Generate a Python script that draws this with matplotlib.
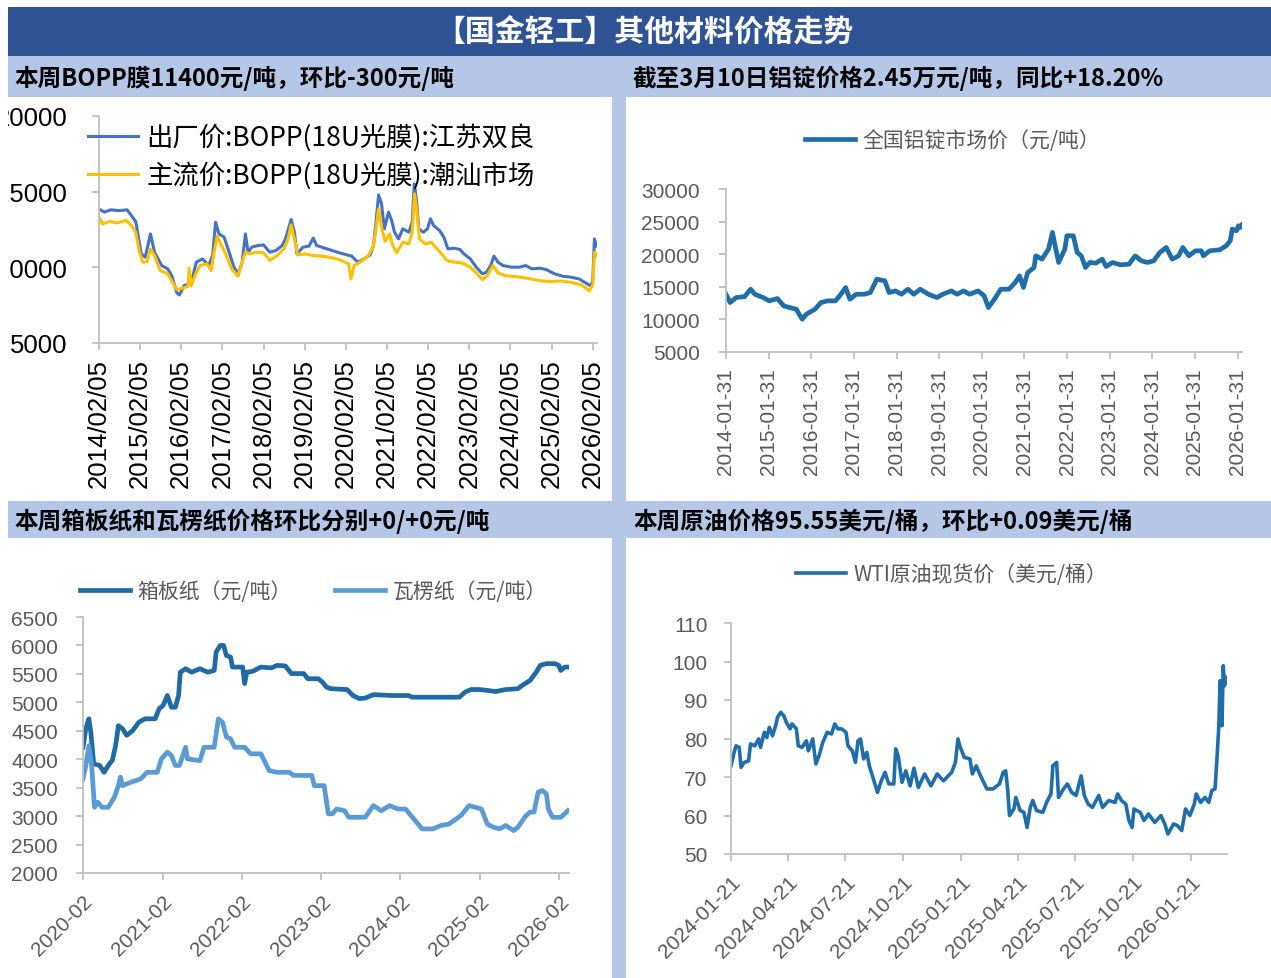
import matplotlib
matplotlib.use('Agg')
import matplotlib.pyplot as plt
from matplotlib.patches import Rectangle
import pandas as pd

# ---- BOPP film (元/吨) ----
bopp_js_dates = ['2014-02-05', '2014-03-25', '2014-05-20', '2014-08-01', '2014-10-12', '2014-11-20', '2014-12-28',
                 '2015-02-15', '2015-03-22', '2015-05-08', '2015-06-13', '2015-08-15', '2015-10-08', '2015-11-13',
                 '2015-12-28', '2016-01-20', '2016-03-03', '2016-04-16', '2016-05-12', '2016-06-18', '2016-08-12',
                 '2016-10-05', '2016-11-10', '2016-12-06', '2017-01-05', '2017-02-20', '2017-04-05', '2017-05-18',
                 '2017-06-25', '2017-07-30', '2017-08-28', '2017-09-20', '2017-10-22', '2017-12-15', '2018-02-05',
                 '2018-04-01', '2018-05-26', '2018-07-20', '2018-08-18', '2018-10-08', '2018-11-06', '2018-11-28',
                 '2019-01-20', '2019-03-15', '2019-04-22', '2019-05-22', '2019-08-22', '2019-12-10', '2020-03-28',
                 '2020-05-22', '2020-07-16', '2020-09-08', '2020-10-08', '2020-10-30', '2020-11-22', '2020-12-18',
                 '2021-01-12', '2021-02-18', '2021-03-18', '2021-04-12', '2021-05-18', '2021-06-25', '2021-08-18',
                 '2021-09-16', '2021-10-05', '2021-10-23', '2021-11-14', '2021-12-24', '2022-01-30', '2022-02-25',
                 '2022-03-25', '2022-05-18', '2022-06-25', '2022-07-30', '2022-09-24', '2022-11-14', '2022-12-20',
                 '2023-02-14', '2023-04-08', '2023-06-02', '2023-07-08', '2023-08-14', '2023-09-12', '2023-10-18',
                 '2023-12-01', '2024-02-14', '2024-04-26', '2024-06-20', '2024-08-14', '2024-10-26', '2024-12-20',
                 '2025-03-03', '2025-05-15', '2025-07-26', '2025-10-08', '2025-12-20', '2026-01-15', '2026-02-05',
                 '2026-02-20', '2026-02-27', '2026-03-06']
bopp_js_vals = [13850, 13650, 13800, 13750, 13800, 13420, 13030,
                10890, 10670, 12210, 11000, 10120, 9900, 9450,
                8310, 8180, 8800, 8900, 9230, 10340, 10560,
                10120, 10780, 12980, 12210, 11990, 11000, 10010,
                9570, 10340, 12210, 11000, 11330, 11440, 11480,
                11000, 11110, 11440, 11880, 13160, 12320, 10890,
                11330, 11400, 11930, 11440, 11220, 10960, 10740,
                10340, 10560, 10820, 11440, 12980, 14790, 14200,
                12540, 13650, 13100, 12320, 11880, 12540, 12320,
                12980, 15520, 14530, 12540, 12320, 12540, 13210,
                12760, 12430, 11990, 11220, 11260, 11180, 10890,
                10560, 10010, 9570, 9680, 10120, 10740, 10340,
                10120, 10010, 10010, 10120, 9900, 9940, 9850,
                9570, 9410, 9350, 9230, 8900, 8790, 9060,
                11880, 11700, 11400]

bopp_cs_dates = ['2014-02-05', '2014-03-08', '2014-05-05', '2014-07-20', '2014-10-01', '2014-11-20', '2014-12-28',
                 '2015-01-30', '2015-03-01', '2015-04-08', '2015-05-08', '2015-06-13', '2015-08-01', '2015-10-08',
                 '2015-11-20', '2015-12-28', '2016-02-20', '2016-04-05', '2016-04-16', '2016-05-05', '2016-06-12',
                 '2016-07-20', '2016-09-20', '2016-10-28', '2016-11-22', '2016-12-20', '2017-01-28', '2017-03-05',
                 '2017-04-28', '2017-06-22', '2017-07-30', '2017-08-28', '2017-10-05', '2017-11-28', '2018-02-05',
                 '2018-04-01', '2018-06-05', '2018-08-05', '2018-09-10', '2018-10-08', '2018-11-06', '2018-12-05',
                 '2019-02-05', '2019-04-20', '2019-07-01', '2019-09-12', '2019-12-10', '2020-03-01', '2020-03-22',
                 '2020-04-18', '2020-06-10', '2020-08-20', '2020-10-05', '2020-10-30', '2020-11-22', '2020-12-18',
                 '2021-01-20', '2021-02-28', '2021-03-28', '2021-05-01', '2021-06-25', '2021-08-18', '2021-09-16',
                 '2021-10-08', '2021-10-28', '2021-11-20', '2022-01-10', '2022-03-05', '2022-04-12', '2022-06-05',
                 '2022-07-20', '2022-09-24', '2022-12-05', '2023-02-14', '2023-04-08', '2023-06-02', '2023-07-15',
                 '2023-09-02', '2023-10-18', '2023-12-20', '2024-03-20', '2024-07-05', '2024-10-26', '2025-01-26',
                 '2025-04-28', '2025-07-26', '2025-10-28', '2026-01-05', '2026-02-05', '2026-02-20', '2026-02-27',
                 '2026-03-06']
bopp_cs_vals = [13320, 12870, 13030, 12940, 13100, 12760, 12320,
                11000, 10340, 10380, 11220, 10780, 9790, 9570,
                9010, 8530, 8620, 8750, 9940, 8800, 9570,
                10120, 10230, 9790, 11000, 12060, 11440, 10890,
                9900, 9410, 10340, 11000, 10890, 11000, 10960,
                10450, 10780, 11220, 11880, 12810, 11880, 10820,
                10890, 10780, 10740, 10670, 10510, 10230, 9230,
                10120, 10340, 10740, 11330, 12540, 13870, 12650,
                11710, 12210, 11440, 10960, 11660, 11550, 12320,
                14860, 13650, 11880, 11550, 11660, 11330, 10890,
                10450, 10340, 10290, 10010, 9630, 9190, 9450,
                10120, 9630, 9450, 9390, 9280, 9120, 9060,
                9100, 9010, 8840, 8460, 8800, 11000, 10700,
                10900]
bopp_ticks = ['2014-02-05', '2015-02-05', '2016-02-05', '2017-02-05', '2018-02-05', '2019-02-05', '2020-02-05',
              '2021-02-05', '2022-02-05', '2023-02-05', '2024-02-05', '2025-02-05', '2026-02-05']

# ---- aluminium ingot (元/吨) ----
alu_dates = ['2014-01-31', '2014-03-07', '2014-04-28', '2014-07-10', '2014-08-30', '2014-10-05', '2014-12-15',
             '2015-02-06', '2015-04-16', '2015-06-10', '2015-08-01', '2015-09-25', '2015-11-15', '2015-12-20',
             '2016-03-03', '2016-04-23', '2016-06-17', '2016-08-25', '2016-10-01', '2016-11-21', '2016-12-27',
             '2017-02-20', '2017-05-01', '2017-06-21', '2017-08-15', '2017-10-23', '2017-11-28', '2018-01-22',
             '2018-03-14', '2018-05-08', '2018-06-28', '2018-08-22', '2018-10-31', '2019-01-12', '2019-03-03',
             '2019-05-15', '2019-07-05', '2019-08-29', '2019-10-19', '2020-01-01', '2020-02-21', '2020-03-28',
             '2020-05-19', '2020-07-12', '2020-09-20', '2020-11-13', '2020-12-20', '2021-01-22', '2021-02-28',
             '2021-04-23', '2021-05-08', '2021-07-01', '2021-08-25', '2021-09-28', '2021-10-15', '2021-11-20',
             '2022-01-12', '2022-01-30', '2022-03-25', '2022-04-28', '2022-06-02', '2022-07-08', '2022-08-14',
             '2022-10-05', '2022-11-28', '2023-01-01', '2023-02-24', '2023-05-05', '2023-07-16', '2023-09-06',
             '2023-10-30', '2023-12-20', '2024-02-13', '2024-04-05', '2024-05-30', '2024-07-20', '2024-09-13',
             '2024-10-19', '2024-12-10', '2025-02-03', '2025-03-26', '2025-04-13', '2025-06-06', '2025-09-02',
             '2025-10-26', '2025-11-29', '2025-12-17', '2026-01-22', '2026-02-08', '2026-02-26', '2026-03-10']
alu_vals = [13860, 12580, 13350, 13500, 14630, 13860, 13350,
            12840, 13200, 12070, 11810, 11560, 10020, 10790,
            11560, 12580, 12840, 12840, 13610, 14890, 13100,
            13860, 13860, 14120, 16170, 15910, 14120, 14370,
            13860, 14630, 13860, 14630, 13860, 13350, 13860,
            14370, 13860, 14370, 13860, 14370, 13610, 11810,
            13100, 14630, 14630, 15650, 16670, 14890, 17190,
            17960, 19750, 19240, 20780, 23340, 21800, 18730,
            20780, 22830, 22830, 20270, 19750, 17960, 18730,
            18630, 19240, 18110, 18730, 18370, 18470, 19750,
            18990, 18730, 18990, 20270, 21030, 19240, 19750,
            21030, 19750, 20520, 20520, 19750, 20520, 20680,
            21290, 22060, 23850, 23600, 24370, 24110, 24500]
alu_ticks = ['2014-01-31', '2015-01-31', '2016-01-31', '2017-01-31', '2018-01-31', '2019-01-31', '2020-01-31',
             '2021-01-31', '2022-01-31', '2023-01-31', '2024-01-31', '2025-01-31', '2026-01-31']

# ---- containerboard / corrugated paper (元/吨) ----
box_dates = ['2020-02-01', '2020-02-14', '2020-02-28', '2020-03-08', '2020-03-21', '2020-04-18', '2020-05-08',
             '2020-05-27', '2020-06-15', '2020-06-30', '2020-07-13', '2020-08-01', '2020-08-20', '2020-09-17',
             '2020-10-15', '2020-11-12', '2020-12-29', '2021-01-17', '2021-02-04', '2021-02-23', '2021-03-14',
             '2021-04-01', '2021-04-16', '2021-04-24', '2021-05-18', '2021-06-15', '2021-07-23', '2021-08-29',
             '2021-09-27', '2021-10-06', '2021-10-25', '2021-11-09', '2021-11-22', '2021-12-11', '2021-12-20',
             '2022-02-05', '2022-02-14', '2022-02-24', '2022-03-23', '2022-04-30', '2022-06-16', '2022-07-14',
             '2022-08-20', '2022-09-17', '2022-11-13', '2022-12-02', '2023-01-19', '2023-02-07', '2023-02-25',
             '2023-03-16', '2023-05-31', '2023-06-28', '2023-07-26', '2023-08-23', '2023-09-30', '2023-12-24',
             '2024-03-08', '2024-03-27', '2024-06-29', '2024-10-29', '2024-11-25', '2024-12-22', '2025-01-29',
             '2025-03-07', '2025-04-14', '2025-05-31', '2025-07-26', '2025-08-14', '2025-09-20', '2025-10-18',
             '2025-11-06', '2025-12-04', '2026-01-11', '2026-01-30', '2026-02-08', '2026-02-27', '2026-03-13']
box_vals = [4210, 4535, 4710, 4476, 3920, 3890, 3770,
            3890, 3980, 4240, 4590, 4535, 4420, 4505,
            4650, 4710, 4710, 4890, 4945, 5120, 4915,
            4915, 5120, 5530, 5590, 5530, 5590, 5530,
            5560, 5885, 6000, 6000, 5825, 5795, 5620,
            5620, 5330, 5530, 5545, 5620, 5605, 5650,
            5640, 5505, 5505, 5415, 5415, 5355, 5270,
            5240, 5225, 5120, 5065, 5075, 5135, 5120,
            5120, 5090, 5090, 5090, 5180, 5225, 5225,
            5210, 5190, 5225, 5240, 5295, 5385, 5530,
            5650, 5680, 5680, 5650, 5560, 5620, 5620]

flute_dates = ['2020-02-01', '2020-02-14', '2020-02-28', '2020-03-12', '2020-03-25', '2020-04-09', '2020-04-28',
               '2020-05-27', '2020-06-24', '2020-07-13', '2020-07-22', '2020-08-01', '2020-09-08', '2020-10-24',
               '2020-11-22', '2021-01-08', '2021-01-27', '2021-02-23', '2021-03-14', '2021-04-01', '2021-04-20',
               '2021-05-18', '2021-05-27', '2021-07-23', '2021-08-11', '2021-09-27', '2021-10-16', '2021-11-04',
               '2021-11-22', '2021-12-11', '2021-12-30', '2022-02-14', '2022-03-14', '2022-04-30', '2022-06-07',
               '2022-07-14', '2022-09-08', '2022-09-27', '2022-12-20', '2023-01-01', '2023-02-15', '2023-03-06',
               '2023-03-25', '2023-04-13', '2023-05-20', '2023-06-08', '2023-08-23', '2023-09-30', '2023-11-04',
               '2023-12-13', '2024-01-19', '2024-02-25', '2024-03-27', '2024-05-11', '2024-06-29', '2024-08-05',
               '2024-09-11', '2024-11-06', '2024-12-13', '2025-02-08', '2025-03-07', '2025-04-04', '2025-05-02',
               '2025-05-31', '2025-07-06', '2025-07-26', '2025-09-01', '2025-09-20', '2025-10-08', '2025-10-27',
               '2025-11-15', '2025-12-04', '2025-12-13', '2026-01-01', '2026-02-08', '2026-03-07', '2026-03-13']
flute_vals = [3655, 3890, 4240, 3890, 3155, 3245, 3155,
              3155, 3330, 3535, 3685, 3535, 3595, 3655,
              3770, 3770, 4005, 4125, 4065, 3890, 3890,
              4210, 4005, 3975, 4210, 4210, 4710, 4650,
              4390, 4360, 4210, 4210, 4095, 4095, 3800,
              3770, 3770, 3715, 3715, 3535, 3535, 3040,
              3040, 3125, 3095, 2980, 2980, 3185, 3095,
              3185, 3125, 3125, 2980, 2775, 2775, 2835,
              2860, 3010, 3185, 3125, 2860, 2805, 2775,
              2835, 2745, 2805, 3010, 3070, 3070, 3420,
              3450, 3390, 3125, 2980, 2980, 3070, 3095]
paper_ticks = ['2020-02-01', '2021-02-01', '2022-02-01', '2023-02-01', '2024-02-01', '2025-02-01', '2026-02-01']
paper_labels = ['2020-02', '2021-02', '2022-02', '2023-02', '2024-02', '2025-02', '2026-02']

# ---- WTI crude spot (美元/桶) ----
wti_dates = ['2024-01-21', '2024-01-26', '2024-01-29', '2024-02-03', '2024-02-06', '2024-02-11', '2024-02-18',
             '2024-02-21', '2024-02-28', '2024-03-05', '2024-03-08', '2024-03-14', '2024-03-18', '2024-03-22',
             '2024-03-27', '2024-04-01', '2024-04-04', '2024-04-09', '2024-04-14', '2024-04-18', '2024-04-24',
             '2024-04-27', '2024-05-04', '2024-05-07', '2024-05-13', '2024-05-20', '2024-05-23', '2024-05-30',
             '2024-06-04', '2024-06-09', '2024-06-15', '2024-06-22', '2024-06-29', '2024-07-04', '2024-07-09',
             '2024-07-15', '2024-07-22', '2024-07-25', '2024-08-01', '2024-08-06', '2024-08-10', '2024-08-14',
             '2024-08-19', '2024-08-24', '2024-08-28', '2024-09-02', '2024-09-10', '2024-09-16', '2024-09-22',
             '2024-09-28', '2024-10-06', '2024-10-09', '2024-10-13', '2024-10-19', '2024-10-25', '2024-11-01',
             '2024-11-07', '2024-11-14', '2024-11-24', '2024-12-04', '2024-12-14', '2024-12-24', '2025-01-06',
             '2025-01-12', '2025-01-16', '2025-01-19', '2025-01-26', '2025-02-04', '2025-02-08', '2025-02-14',
             '2025-02-21', '2025-03-03', '2025-03-13', '2025-03-23', '2025-03-29', '2025-04-02', '2025-04-05',
             '2025-04-08', '2025-04-15', '2025-04-18', '2025-04-25', '2025-05-01', '2025-05-06', '2025-05-11',
             '2025-05-15', '2025-05-21', '2025-05-31', '2025-06-06', '2025-06-13', '2025-06-16', '2025-06-22',
             '2025-06-25', '2025-07-03', '2025-07-09', '2025-07-16', '2025-07-23', '2025-07-31', '2025-08-05',
             '2025-08-11', '2025-08-18', '2025-08-28', '2025-09-03', '2025-09-13', '2025-09-23', '2025-09-27',
             '2025-10-03', '2025-10-10', '2025-10-15', '2025-10-20', '2025-10-23', '2025-11-02', '2025-11-08',
             '2025-11-15', '2025-11-25', '2025-12-05', '2025-12-11', '2025-12-16', '2025-12-25', '2025-12-31',
             '2026-01-07', '2026-01-13', '2026-01-20', '2026-01-27', '2026-01-30', '2026-02-06', '2026-02-13',
             '2026-02-19', '2026-02-24', '2026-03-01', '2026-03-04', '2026-03-07', '2026-03-09', '2026-03-12',
             '2026-03-14', '2026-03-16', '2026-03-19', '2026-03-20']
wti_vals = [72.9, 76.4, 78.1, 77.7, 72.5, 73.8, 74.2,
            78.6, 78.1, 79.9, 77.7, 81.6, 80.3, 82.9,
            80.7, 83.3, 85.5, 86.8, 85.9, 84.2, 82.5,
            83.8, 82.5, 78.1, 77.7, 79.4, 76.8, 79.9,
            73.4, 75.5, 79.0, 81.6, 81.2, 83.8, 82.5,
            82.5, 81.6, 78.1, 76.8, 73.8, 79.4, 79.9,
            74.7, 76.4, 72.9, 70.3, 66.0, 69.0, 71.2,
            68.2, 68.2, 77.3, 75.5, 68.6, 71.6, 67.7,
            72.3, 67.3, 70.8, 67.7, 70.8, 69.0, 71.2,
            73.8, 79.9, 78.1, 75.1, 74.7, 70.8, 72.9,
            70.3, 66.9, 66.9, 68.2, 71.2, 71.6, 66.9,
            60.0, 61.7, 64.7, 61.3, 60.8, 56.9, 62.1,
            63.9, 61.3, 60.8, 63.4, 65.6, 72.9, 73.8,
            64.7, 66.9, 68.2, 66.0, 65.2, 70.3, 65.2,
            63.0, 62.1, 65.2, 62.1, 63.9, 63.4, 65.6,
            63.9, 63.0, 58.7, 56.9, 61.7, 60.8, 58.7,
            60.4, 58.2, 60.0, 57.8, 55.2, 57.8, 57.4,
            56.1, 61.7, 60.0, 63.0, 65.6, 63.4, 64.7,
            63.4, 66.5, 66.9, 74.7, 83.3, 95.0, 83.3,
            98.9, 93.7, 95.9, 95.5]
wti_ticks = ['2024-01-21', '2024-04-21', '2024-07-21', '2024-10-21', '2025-01-21', '2025-04-21', '2025-07-21',
             '2025-10-21', '2026-01-21']

W, H = 1271, 979
DARK_BAR = '#2F5496'
LIGHT_BAR = '#B4C7E7'
GRAY_TXT = '#595959'
AXIS_GRAY = '#BFBFBF'

plt.rcParams['font.family'] = ['Liberation Sans', 'Noto Sans CJK SC']
CJK = ['Noto Sans CJK SC', 'Liberation Sans']

fig = plt.figure(figsize=(W / 100, H / 100), dpi=100)
fig.patch.set_facecolor('white')


def px_rect(x0, y0, x1, y1, color, z=0):
    fig.add_artist(Rectangle((x0 / W, 1 - y1 / H), (x1 - x0) / W, (y1 - y0) / H,
                             transform=fig.transFigure, facecolor=color, edgecolor='none', zorder=z))


def px_axes(x0, y0, x1, y1):
    return fig.add_axes([x0 / W, 1 - y1 / H, (x1 - x0) / W, (y1 - y0) / H])


def px_text(x, y, s, **kw):
    fig.text(x / W, 1 - y / H, s, **kw)


def style(ax, color, size, ypad, xpad):
    for s in ['top', 'right']:
        ax.spines[s].set_visible(False)
    for s in ['left', 'bottom']:
        ax.spines[s].set_color(AXIS_GRAY)
        ax.spines[s].set_linewidth(1.3)
    ax.tick_params(axis='both', direction='out', color=AXIS_GRAY, width=1.3, length=5,
                   labelcolor=color, labelsize=size)
    ax.tick_params(axis='y', pad=ypad)
    ax.tick_params(axis='x', pad=xpad)
    ax.set_facecolor('none')


def legend_at(ax, x, y, size, color, **kw):
    return ax.legend(loc='upper left', bbox_to_anchor=(x / W, 1 - y / H), bbox_transform=fig.transFigure,
                     frameon=False, borderpad=0, borderaxespad=0, labelcolor=color,
                     prop={'family': CJK, 'size': size}, **kw)


# background bars
px_rect(8, 8, W, 57, DARK_BAR)
px_rect(8, 57, W, 98, LIGHT_BAR)
px_rect(612, 98, 626, H, LIGHT_BAR)
px_rect(8, 502, W, 539, LIGHT_BAR)

px_text(644, 33, '【国金轻工】其他材料价格走势', color='white', fontsize=21.5, fontweight='bold',
        family=CJK, ha='center', va='center')
px_text(14, 78, '本周BOPP膜11400元/吨，环比-300元/吨', fontsize=17, fontweight='bold',
        family=CJK, ha='left', va='center', color='black')
px_text(633, 78, '截至3月10日铝锭价格2.45万元/吨，同比+18.20%', fontsize=17, fontweight='bold',
        family=CJK, ha='left', va='center', color='black')
px_text(14, 521, '本周箱板纸和瓦楞纸价格环比分别+0/+0元/吨', fontsize=17, fontweight='bold',
        family=CJK, ha='left', va='center', color='black')
px_text(633, 521, '本周原油价格95.55美元/桶，环比+0.09美元/桶', fontsize=17, fontweight='bold',
        family=CJK, ha='left', va='center', color='black')

# ---- panel 1: BOPP ----
ax1 = px_axes(99, 117, 597, 344)
ax1.plot(pd.to_datetime(bopp_js_dates), bopp_js_vals, color='#4472C4', lw=2.2,
         label='出厂价:BOPP(18U光膜):江苏双良')
ax1.plot(pd.to_datetime(bopp_cs_dates), bopp_cs_vals, color='#FFC000', lw=2.2,
         label='主流价:BOPP(18U光膜):潮汕市场')
ax1.set_ylim(5000, 20000)
ax1.set_yticks([5000, 10000, 15000, 20000])
ax1.set_xlim(pd.Timestamp('2014-02-05'), pd.Timestamp('2026-03-15'))
ax1.set_xticks(pd.to_datetime(bopp_ticks))
ax1.set_xticklabels([d.replace('-', '/') for d in bopp_ticks], rotation=90)
style(ax1, 'black', 18.5, 18, 6)
legend_at(ax1, 88, 124, 19, 'black', handlelength=1.9, handletextpad=0.3, labelspacing=0.4)

# ---- panel 2: aluminium ----
ax2 = px_axes(726, 190, 1242, 353)
ax2.plot(pd.to_datetime(alu_dates), alu_vals, color='#1F6EAA', lw=3.4, label='全国铝锭市场价（元/吨）')
ax2.set_ylim(5000, 30000)
ax2.set_yticks(range(5000, 30001, 5000))
ax2.set_xlim(pd.Timestamp('2014-01-31'), pd.Timestamp('2026-03-10'))
ax2.set_xticks(pd.to_datetime(alu_ticks))
ax2.set_xticklabels(alu_ticks, rotation=90)
style(ax2, GRAY_TXT, 15, 14, 6)
legend_at(ax2, 805, 130, 15, GRAY_TXT, handlelength=2.4, handletextpad=0.35)

# ---- panel 3: paper ----
ax3 = px_axes(83, 618, 569, 874)
ax3.plot(pd.to_datetime(box_dates), box_vals, color='#1F6AA5', lw=3.4, label='箱板纸（元/吨）')
ax3.plot(pd.to_datetime(flute_dates), flute_vals, color='#5B9BD5', lw=3.4, label='瓦楞纸（元/吨）')
ax3.set_ylim(2000, 6500)
ax3.set_yticks(range(2000, 6501, 500))
ax3.set_xlim(pd.Timestamp('2020-02-01'), pd.Timestamp('2026-03-18'))
ax3.set_xticks(pd.to_datetime(paper_ticks))
ax3.set_xticklabels(paper_labels, rotation=45, ha='right', rotation_mode='anchor')
style(ax3, GRAY_TXT, 15, 13, 8)
legend_at(ax3, 80, 581, 15, GRAY_TXT, ncol=2, handlelength=2.4, handletextpad=0.35, columnspacing=2.1)

# ---- panel 4: WTI ----
ax4 = px_axes(731, 624, 1227, 855)
ax4.plot(pd.to_datetime(wti_dates), wti_vals, color='#1F6DAB', lw=2.6, label='WTI原油现货价（美元/桶）')
ax4.set_ylim(50, 110)
ax4.set_yticks(range(50, 111, 10))
ax4.set_xlim(pd.Timestamp('2024-01-21'), pd.Timestamp('2026-03-20'))
ax4.set_xticks(pd.to_datetime(wti_ticks))
ax4.set_xticklabels(wti_ticks, rotation=45, ha='right', rotation_mode='anchor')
style(ax4, GRAY_TXT, 15, 12, 8)
legend_at(ax4, 796, 564, 15, GRAY_TXT, handlelength=2.4, handletextpad=0.35)

# white strip on the far left clips the overflowing tick labels
px_rect(0, 98, 8, H, 'white', z=10)

fig.savefig('out.png', dpi=100, facecolor=fig.get_facecolor())
